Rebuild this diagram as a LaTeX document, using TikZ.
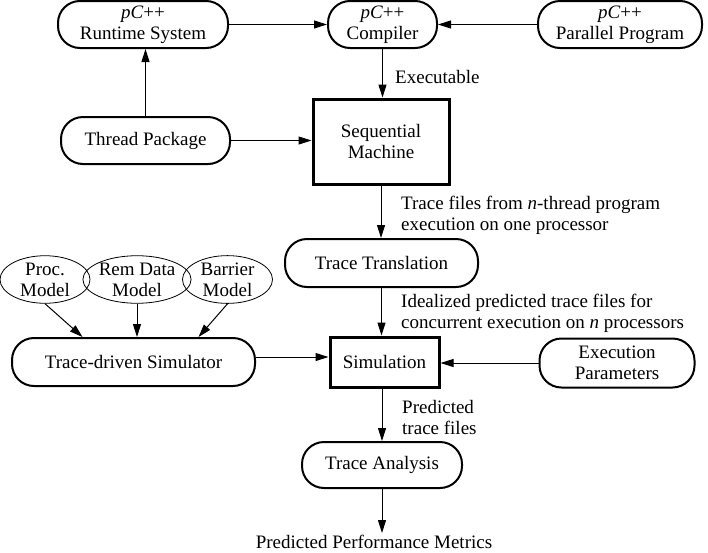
\documentclass[tikz,border=0pt]{standalone}
\usepackage{fontspec}
\setmainfont{Liberation Serif}
\usetikzlibrary{arrows.meta,shapes.geometric}
\begin{document}
\begin{tikzpicture}[x=1pt,y=-1pt,
 every node/.style={font=\fontsize{19}{21}\selectfont, inner sep=0pt},
 pill/.style={draw, line width=2pt, rounded corners=22pt, align=center},
 box/.style={draw, line width=3pt, align=center},
 oval/.style={draw, ellipse, line width=0.8pt, align=center, minimum width=90pt, minimum height=47pt},
 arr/.style={-{Triangle[length=13pt,width=8pt]}, line width=1pt},
 lbl/.style={align=left, anchor=west}]
\useasboundingbox (0,0) rectangle (708,552);
\node[pill, minimum width=170pt, minimum height=47pt] (rts) at (143,24.5) {\textit{pC}++\\Runtime System};
\node[pill, minimum width=109pt, minimum height=47pt] (comp) at (382.5,24.5) {\textit{pC}++\\Compiler};
\node[pill, minimum width=164pt, minimum height=47pt] (par) at (620,24.5) {\textit{pC}++\\Parallel Program};
\node[box, minimum width=136pt, minimum height=85pt] (seq) at (381,141.5) {Sequential\\Machine};
\node[pill, minimum width=169pt, minimum height=47pt] (thr) at (145.5,140.5) {Thread Package};
\node[pill, minimum width=193pt, minimum height=48pt] (tt) at (381.5,263) {Trace Translation};
\node[box, minimum width=109pt, minimum height=50pt] (sim) at (384.5,362) {Simulation};
\node[pill, minimum width=155pt, minimum height=49pt] (exe) at (617,363) {Execution\\Parameters};
\node[pill, minimum width=243pt, minimum height=48pt] (tds) at (133.5,362) {Trace-driven Simulator};
\node[oval] (proc) at (45,279.5) {Proc.\\Model};
\node[oval] (rem) at (137,279.5) {Rem Data\\Model};
\node[oval] (bar) at (227.5,279.5) {Barrier\\Model};
\node[pill, minimum width=160pt, minimum height=46pt] (ta) at (382,465) {Trace Analysis};
\node (ppm) at (374,542) {Predicted Performance Metrics};

\node[lbl] (lex) at (395,77) {Executable};
\node[lbl] (ltf) at (401,215) {Trace files from \textit{n}-thread program\\execution on one processor};
\node[lbl] (lid) at (401,313) {Idealized predicted trace files for\\concurrent execution on \textit{n} processors};
\node[lbl] (lpr) at (402,417) {Predicted\\trace files};

\draw[arr] (rts) -- (comp);
\draw[arr] (par) -- (comp);
\draw[arr] (comp.south) -- (comp.south |- seq.north);
\draw[arr] (thr.north) -- (thr.north |- rts.south);
\draw[arr] (thr.east) -- (thr.east -| seq.west);
\draw[arr] (seq.south) -- (seq.south |- tt.north);
\draw[arr] (tt.south) -- (tt.south |- sim.north);
\draw[arr] (exe.west) -- (exe.west -| sim.east);
\draw[arr] ([yshift=5pt]tds.east) -- ([yshift=5pt]tds.east -| sim.west);
\draw[arr] (proc.south) -- ([xshift=-51pt]tds.north);
\draw[arr] (rem.south) -- (rem.south |- tds.north);
\draw[arr] (bar.south) -- ([xshift=65pt]tds.north);
\draw[arr] (ta.north |- sim.south) -- (ta.north);
\draw[arr] (ta.south) -- ([yshift=2pt]ta.south |- ppm.north);
\end{tikzpicture}
\end{document}
